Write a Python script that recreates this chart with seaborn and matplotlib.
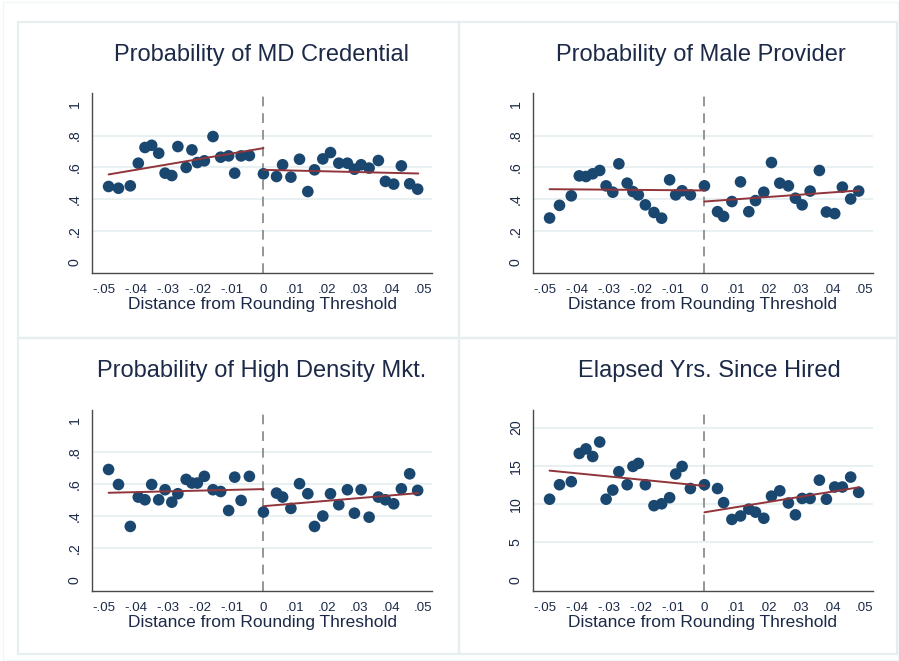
import matplotlib
matplotlib.use("Agg")
import matplotlib.pyplot as plt
from matplotlib.patches import Rectangle
import numpy as np
import pandas as pd
import seaborn as sns

# ---- binned data: mean distance from threshold per bin ----
x_bins = [-0.0485, -0.0454, -0.0417, -0.0392, -0.0371, -0.0350, -0.0328, -0.0308,
          -0.0287, -0.0268, -0.0242, -0.0224, -0.0207, -0.0185, -0.0158, -0.0134,
          -0.0109, -0.0090, -0.0070, -0.0044,
          0.0,
          0.0041, 0.0060, 0.0086, 0.0113, 0.0139, 0.0160, 0.0186, 0.0210, 0.0236,
          0.0263, 0.0285, 0.0306, 0.0331, 0.0360, 0.0382, 0.0408, 0.0432, 0.0458,
          0.0483]

md_prob = [0.479, 0.468, 0.483, 0.626, 0.725, 0.739, 0.689, 0.563, 0.548, 0.731,
           0.599, 0.710, 0.630, 0.641, 0.794, 0.664, 0.672, 0.563, 0.672, 0.674,
           0.559,
           0.542, 0.616, 0.538, 0.651, 0.447, 0.584, 0.653, 0.693, 0.626, 0.626,
           0.588, 0.616, 0.595, 0.643, 0.511, 0.494, 0.609, 0.496, 0.462]

male_prob = [0.280, 0.360, 0.420, 0.546, 0.542, 0.559, 0.580, 0.483, 0.443, 0.622,
             0.500, 0.447, 0.426, 0.363, 0.315, 0.279, 0.521, 0.426, 0.452, 0.426,
             0.483,
             0.320, 0.290, 0.384, 0.508, 0.320, 0.390, 0.443, 0.630, 0.500, 0.483,
             0.405, 0.363, 0.450, 0.580, 0.318, 0.308, 0.475, 0.400, 0.450]

density_prob = [0.692, 0.598, 0.335, 0.519, 0.502, 0.598, 0.502, 0.565, 0.487, 0.540,
                0.630, 0.607, 0.607, 0.649, 0.565, 0.554, 0.435, 0.644, 0.498, 0.649,
                0.425,
                0.544, 0.519, 0.448, 0.603, 0.540, 0.335, 0.400, 0.540, 0.471, 0.565,
                0.418, 0.565, 0.393, 0.519, 0.502, 0.477, 0.571, 0.665, 0.561]

elapsed_yrs = [10.6, 12.5, 12.9, 16.6, 17.2, 16.2, 18.1, 10.6, 11.8, 14.2,
               12.5, 14.9, 15.3, 12.5, 9.75, 10.0, 10.8, 13.9, 14.9, 12.0,
               12.5,
               12.0, 10.15, 7.95, 8.4, 9.3, 8.9, 8.1, 11.0, 11.7, 10.1,
               8.55, 10.7, 10.7, 13.1, 10.6, 12.2, 12.2, 13.5, 11.5]

# ---- linear fits on each side of the threshold (values at the segment ends) ----
fit_x_left = [-0.0485, 0.0]
fit_x_right = [0.0, 0.0485]
md_fit_left, md_fit_right = [0.555, 0.721], [0.584, 0.561]
male_fit_left, male_fit_right = [0.462, 0.454], [0.384, 0.454]
density_fit_left, density_fit_right = [0.546, 0.569], [0.462, 0.544]
elapsed_fit_left, elapsed_fit_right = [14.35, 12.34], [8.88, 12.17]

titles = ["Probability of MD Credential", "Probability of Male Provider",
          "Probability of High Density Mkt.", "Elapsed Yrs. Since Hired"]
x_label = "Distance from Rounding Threshold"
x_tick_values = [-0.05, -0.04, -0.03, -0.02, -0.01, 0.0, 0.01, 0.02, 0.03, 0.04, 0.05]
x_tick_labels = ["-.05", "-.04", "-.03", "-.02", "-.01", "0", ".01", ".02", ".03", ".04", ".05"]
prob_tick_values = [0, 0.2, 0.4, 0.6, 0.8, 1.0]
prob_tick_labels = ["0", ".2", ".4", ".6", ".8", "1"]
prob_grid = [0.2, 0.4, 0.6, 0.8]
yrs_tick_values = [0, 5, 10, 15, 20]
yrs_tick_labels = ["0", "5", "10", "15", "20"]
yrs_grid = [5, 10, 15, 20]

# ---- style ----
sns.set_theme(style="white")
plt.rcParams["font.family"] = ["Liberation Sans", "DejaVu Sans"]
plt.rcParams["lines.scale_dashes"] = False

NAVY = "#1a476f"
MAROON = "#90353b"
TEXT = "#1c2a48"
AXIS = "#4a4a4a"
GRID = "#e6eff0"
FRAME = "#e6eef0"

W, H = 899, 661
fig = plt.figure(figsize=(W / 100, H / 100), dpi=100)
fig.patch.set_facecolor("white")

# panel frames (pixel boxes converted to figure fractions)
def px_rect(x0, y0, x1, y1, color, lw):
    fig.patches.append(Rectangle((x0 / W, 1 - y1 / H), (x1 - x0) / W, (y1 - y0) / H,
                                 transform=fig.transFigure, fill=False,
                                 edgecolor=color, linewidth=lw, zorder=0))

px_rect(3, 2, 898, 660, "#f2f6f7", 1.0)
for (x0, x1) in [(18, 459), (459, 897)]:
    for (y0, y1) in [(22, 338), (338, 654)]:
        px_rect(x0, y0, x1, y1, FRAME, 1.6)

col_left = [92.3, 533.3]
ax_w = 339.4
rows = [(93.3, 272.7), (410.0, 590.7)]
title_centers = [262, 701, 262, 709]
title_baselines = [60.7, 60.7, 376.7, 376.7]

panels = [
    (md_prob, md_fit_left, md_fit_right, (-0.065, 1.067), prob_tick_values, prob_tick_labels, prob_grid),
    (male_prob, male_fit_left, male_fit_right, (-0.065, 1.067), prob_tick_values, prob_tick_labels, prob_grid),
    (density_prob, density_fit_left, density_fit_right, (-0.068, 1.065), prob_tick_values, prob_tick_labels, prob_grid),
    (elapsed_yrs, elapsed_fit_left, elapsed_fit_right, (-1.4, 22.3), yrs_tick_values, yrs_tick_labels, yrs_grid),
]

for i, (yvals, fit_l, fit_r, ylim, yt, ytl, grid) in enumerate(panels):
    r, c = divmod(i, 2)
    top, bottom = rows[r]
    ax = fig.add_axes([col_left[c] / W, 1 - bottom / H, ax_w / W, (bottom - top) / H])
    ax.set_facecolor("none")

    for g in grid:
        ax.axhline(g, color=GRID, lw=1.3, zorder=0)
    ax.axvline(0, color="#8e8e8e", lw=1.3, ls=(0, (7, 5)), zorder=1)

    pts = pd.DataFrame({"x": x_bins, "y": yvals})
    sns.scatterplot(data=pts, x="x", y="y", ax=ax, s=70, color=NAVY,
                    edgecolor="none", linewidth=0, zorder=3)

    fits = pd.DataFrame({"x": fit_x_left + fit_x_right, "y": fit_l + fit_r,
                         "side": ["below", "below", "above", "above"]})
    sns.lineplot(data=fits, x="x", y="y", units="side", estimator=None, ax=ax,
                 color=MAROON, lw=1.4, zorder=4)

    ax.set_xlim(-0.0536, 0.0527)
    ax.set_ylim(*ylim)
    ax.set_xticks(x_tick_values)
    ax.set_xticklabels(x_tick_labels)
    ax.set_yticks(yt)
    ax.set_yticklabels(ytl, rotation=90, va="center")
    ax.set_xlabel(x_label, fontsize=12.5, color=TEXT, labelpad=1)
    ax.set_ylabel("")

    for s in ["top", "right"]:
        ax.spines[s].set_visible(False)
    for s in ["left", "bottom"]:
        ax.spines[s].set_color(AXIS)
        ax.spines[s].set_linewidth(1.0)
    ax.tick_params(axis="both", direction="out", length=4.5, width=1.0, color=AXIS,
                   labelcolor=TEXT)
    ax.tick_params(axis="x", labelsize=9.6, pad=3.5)
    ax.tick_params(axis="y", labelsize=10.2, pad=3)

    fig.text(title_centers[i] / W, 1 - title_baselines[i] / H, titles[i],
             ha="center", va="baseline", fontsize=17, color=TEXT)

fig.savefig("out.png", dpi=100, facecolor="white")
